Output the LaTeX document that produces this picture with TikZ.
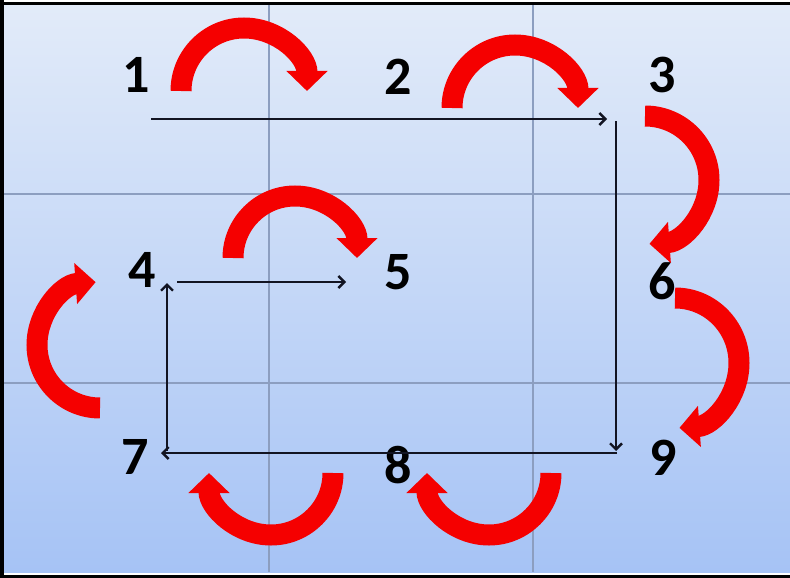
\documentclass[tikz,border=0pt]{standalone}
\usepackage{fontspec}
\setmainfont{Carlito}
\usetikzlibrary{arrows.meta}
\definecolor{bgtop}{RGB}{226,235,249}
\definecolor{bgbot}{RGB}{166,195,245}
\definecolor{gridc}{RGB}{140,158,192}
\definecolor{inkc}{RGB}{18,20,34}
\definecolor{arrred}{RGB}{245,0,0}
\tikzset{
  num/.style={inner sep=0pt, font=\fontsize{54pt}{54pt}\selectfont\bfseries, text=black},
  gridline/.style={draw=gridc, line width=1.3pt},
  flow/.style={draw=inkc, line width=2.9pt, -{Straight Barb[length=6pt,width=12pt,line width=2.4pt]}},
  redarrow/.style={draw=arrred, line width=21pt, line cap=butt, -{Triangle[length=20pt,width=40pt]}}
}
\begin{document}
\begin{tikzpicture}[x=1pt,y=-1pt]
\useasboundingbox (0,0) rectangle (790,578);
\fill[white] (0,0) rectangle (790,578);
\shade[top color=bgtop, bottom color=bgbot] (4,5) rectangle (790,572);
% grid
\draw[gridline] (269,5) -- (269,572);
\draw[gridline] (533,5) -- (533,572);
\draw[gridline] (4,194) -- (790,194);
\draw[gridline] (4,383) -- (790,383);
% frame
\draw[black, line width=3pt] (0,3.5) -- (790,3.5);
\draw[black, line width=4pt] (2,0) -- (2,578);
\draw[black, line width=3.5pt] (0,576.5) -- (790,576.5);
% numbers
\node[num] (n1) at (136,75) {1};
\node[num] (n2) at (398,77) {2};
\node[num] (n3) at (662,75) {3};
\node[num] (n4) at (142,270) {4};
\node[num] (n5) at (398,272) {5};
\node[num] (n6) at (662,281) {6};
\node[num] (n7) at (135,457) {7};
\node[num] (n8) at (398,465) {8};
\node[num] (n9) at (663,458) {9};
% black flow connectors
\coordinate (p1) at (151,119);
\coordinate (p3) at (607,119);
\coordinate (q3) at (616,121);
\coordinate (q9) at (616,451);
\coordinate (r9) at (617,453);
\coordinate (r7) at (161,453);
\coordinate (s7) at (167,451);
\coordinate (s4) at (167,283);
\coordinate (t4) at (177,282);
\coordinate (t5) at (346,282);
\draw[flow] (p1) -- (p3);
\draw[flow] (q3) -- (q9);
\draw[flow] (r9) -- (r7);
\draw[flow] (s7) -- (s4);
\draw[flow] (t4) -- (t5);
% red curved arrows
\coordinate (ra) at (181,91);
\coordinate (rb) at (452,108);
\coordinate (rc) at (233,258);
\coordinate (rd) at (645,116);
\coordinate (re) at (675,298);
\coordinate (rf) at (100,408);
\coordinate (rg) at (333,473);
\coordinate (rh) at (551,473);
\draw[redarrow] (ra) arc[start angle=180, end angle=360, radius=63];
\draw[redarrow] (rb) arc[start angle=180, end angle=360, radius=63];
\draw[redarrow] (rc) arc[start angle=180, end angle=360, radius=62];
\draw[redarrow] (rd) arc[start angle=-90, end angle=86, x radius=64, y radius=64];
\draw[redarrow] (re) arc[start angle=-90, end angle=86, x radius=64, y radius=65];
\draw[redarrow] (rf) arc[start angle=90, end angle=266, radius=63];
\draw[redarrow] (rg) arc[start angle=0, end angle=180, radius=62];
\draw[redarrow] (rh) arc[start angle=0, end angle=180, radius=62];
\end{tikzpicture}
\end{document}
